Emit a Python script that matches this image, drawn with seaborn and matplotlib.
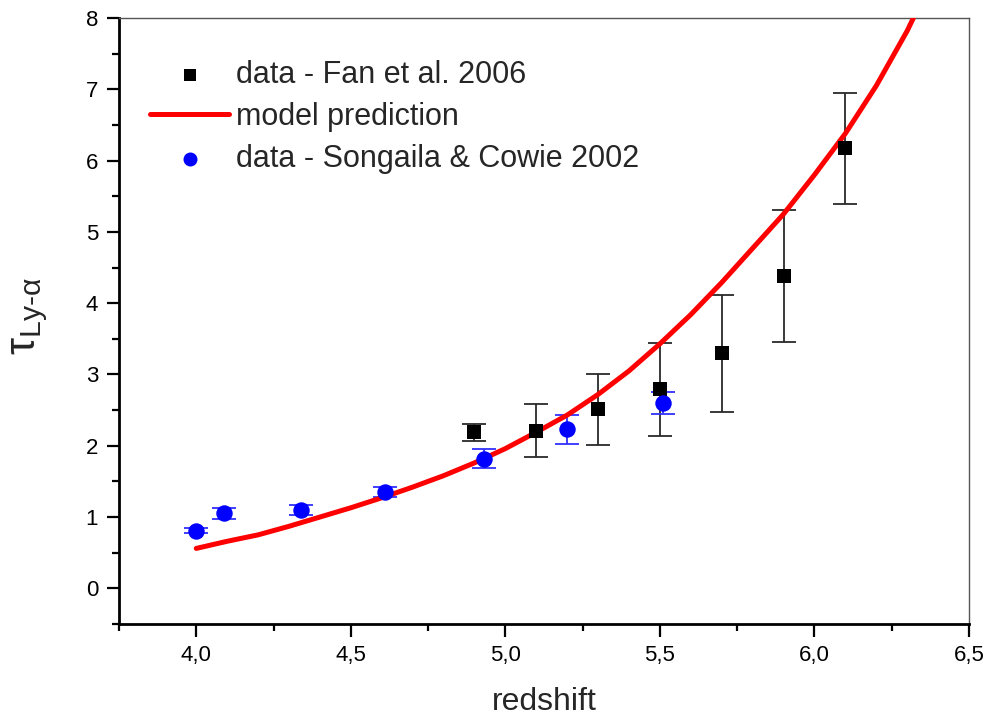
import matplotlib
matplotlib.use("Agg")
import matplotlib.pyplot as plt
import pandas as pd
import seaborn as sns
from matplotlib.ticker import FixedLocator, FixedFormatter, MultipleLocator

# Lyman-alpha effective optical depth versus redshift
fan_z = [4.9, 5.1, 5.3, 5.5, 5.7, 5.9, 6.1]
fan_tau = [2.19, 2.21, 2.51, 2.79, 3.30, 4.38, 6.17]
fan_err = [0.12, 0.37, 0.50, 0.65, 0.82, 0.93, 0.78]

sc_z = [4.00, 4.09, 4.34, 4.61, 4.93, 5.20, 5.51]
sc_tau = [0.81, 1.05, 1.10, 1.35, 1.82, 2.23, 2.60]
sc_err = [0.03, 0.08, 0.065, 0.075, 0.13, 0.20, 0.15]

model_z = [4.0, 4.1, 4.2, 4.3, 4.4, 4.5, 4.6, 4.7, 4.8, 4.9, 5.0, 5.1, 5.2,
           5.3, 5.4, 5.5, 5.6, 5.7, 5.8, 5.9, 6.0, 6.1, 6.2, 6.3, 6.32]
model_tau = [0.56, 0.66, 0.75, 0.87, 1.00, 1.13, 1.27, 1.42, 1.58, 1.76, 1.96,
             2.19, 2.43, 2.72, 3.05, 3.43, 3.84, 4.29, 4.77, 5.25, 5.80, 6.38,
             7.05, 7.82, 8.00]

x_ticks = [4.0, 4.5, 5.0, 5.5, 6.0, 6.5]
x_tick_labels = ["4,0", "4,5", "5,0", "5,5", "6,0", "6,5"]
y_ticks = [0, 1, 2, 3, 4, 5, 6, 7, 8]
y_tick_labels = ["0", "1", "2", "3", "4", "5", "6", "7", "8"]

label_fan = "data - Fan et al. 2006"
label_model = "model prediction"
label_sc = "data - Songaila & Cowie 2002"

fan_df = pd.DataFrame({"z": fan_z, "tau": fan_tau})
sc_df = pd.DataFrame({"z": sc_z, "tau": sc_tau})
model_df = pd.DataFrame({"z": model_z, "tau": model_tau})

sns.set_style("ticks")
plt.rcParams["font.family"] = ["Liberation Sans", "DejaVu Sans"]
plt.rcParams["mathtext.fontset"] = "custom"
plt.rcParams["mathtext.rm"] = "Liberation Sans"
plt.rcParams["mathtext.it"] = "Liberation Sans"
plt.rcParams["mathtext.default"] = "regular"

fig = plt.figure(figsize=(9.88, 7.16), dpi=100)
ax = fig.add_axes([0.1204, 0.1285, 0.8604, 0.8464])

# error bars first, markers drawn on top
ax.errorbar(fan_z, fan_tau, yerr=fan_err, fmt="none", ecolor="#2a2a2a",
            elinewidth=1.3, capsize=8.5, capthick=1.3, zorder=2)
ax.errorbar(sc_z, sc_tau, yerr=sc_err, fmt="none", ecolor="#3030ff",
            elinewidth=1.3, capsize=8.5, capthick=1.3, zorder=2)

sns.lineplot(data=model_df, x="z", y="tau", ax=ax, color="#ff0000",
             linewidth=3.6, label=label_model, zorder=3, sort=False)
sns.scatterplot(data=fan_df, x="z", y="tau", ax=ax, marker="s", s=95,
                color="black", edgecolor="black", linewidth=0,
                label=label_fan, zorder=4)
sns.scatterplot(data=sc_df, x="z", y="tau", ax=ax, marker="o", s=140,
                color="#0000ff", edgecolor="#0000ff", linewidth=0,
                label=label_sc, zorder=4)

ax.set_xlim(3.75, 6.5)
ax.set_ylim(-0.5, 8)

ax.xaxis.set_major_locator(FixedLocator(x_ticks))
ax.xaxis.set_major_formatter(FixedFormatter(x_tick_labels))
ax.xaxis.set_minor_locator(MultipleLocator(0.25))
ax.yaxis.set_major_locator(FixedLocator(y_ticks))
ax.yaxis.set_major_formatter(FixedFormatter(y_tick_labels))
ax.yaxis.set_minor_locator(MultipleLocator(0.5))

ax.tick_params(which="major", direction="out", length=9, width=1.6,
               labelsize=16, colors="black", pad=6)
ax.tick_params(which="minor", direction="out", length=5, width=1.6,
               colors="black")
ax.tick_params(top=False, right=False, which="both")

for side in ("left", "bottom"):
    ax.spines[side].set_linewidth(2.0)
    ax.spines[side].set_color("black")
for side in ("top", "right"):
    ax.spines[side].set_linewidth(1.0)
    ax.spines[side].set_color("#555555")
    ax.spines[side].set_visible(True)

ax.set_xlabel("redshift", fontsize=23, labelpad=15)
ax.set_ylabel(r"$\tau_{Ly\text{-}\alpha}$", fontsize=31)
ax.yaxis.set_label_coords(-0.081, 0.508)

handles, labels = ax.get_legend_handles_labels()
order = [labels.index(label_fan), labels.index(label_model), labels.index(label_sc)]
ax.legend([handles[i] for i in order], [labels[i] for i in order],
          loc="upper left", bbox_to_anchor=(0.0365, 0.93), frameon=False,
          fontsize=22, handlelength=2.6, handletextpad=0.2,
          labelspacing=0.38, borderpad=0, borderaxespad=0, markerscale=0.85)

fig.savefig("out.png", dpi=100, facecolor="white")
